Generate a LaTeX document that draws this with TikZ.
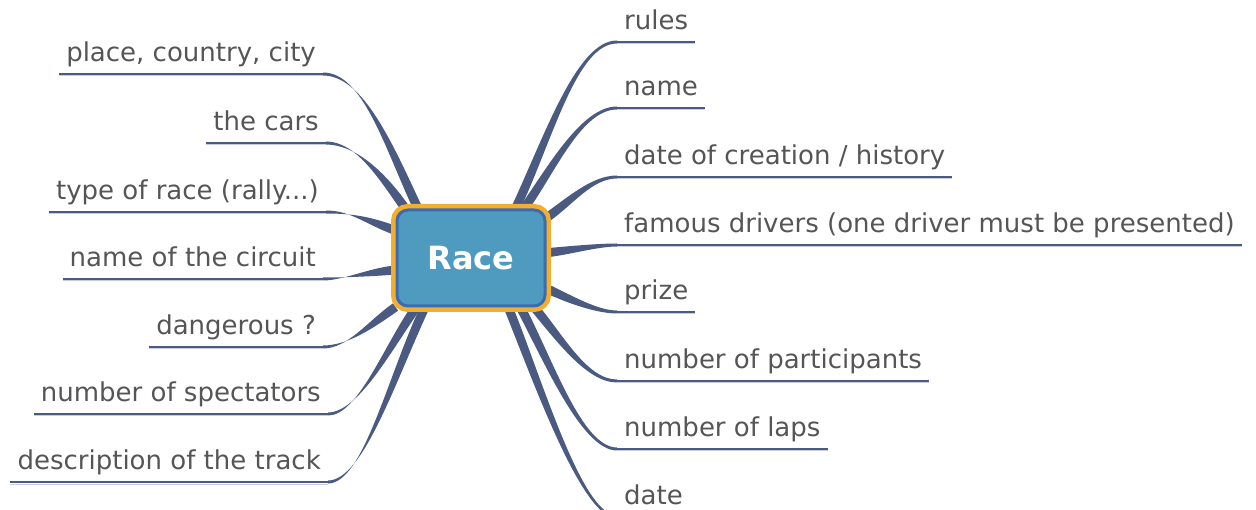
\documentclass[tikz,border=0pt]{standalone}
\usepackage{fontspec}
\setmainfont{DejaVu Sans}
\usetikzlibrary{calc,backgrounds}

\definecolor{twigblue}{HTML}{4B5A80}
\definecolor{racefill}{HTML}{4F9BBF}
\definecolor{raceedge}{HTML}{3A6DB0}
\definecolor{raceorange}{HTML}{F2AE2C}
\definecolor{labelgray}{HTML}{555555}

% tapered branch: #1 angle on race, #2 start direction, #3 start pull,
% #4 end pull, #5 end point, #6 side of the end pull (0 left label, 180 right label)
\newcommand\twig[6]{%
  \fill[twigblue] ($(race.#1)+(#2+90:4.5pt)$)
    .. controls +(#2:#3pt) and +(#6:#4pt) .. ($(#5)+(0,1.5)$)
    -- ($(#5)+(0,-1.5)$)
    .. controls +(#6:#4pt) and +(#2:#3pt) .. ($(race.#1)+(#2-90:4.5pt)$)
    -- cycle;}

\begin{document}
\begin{tikzpicture}[
    x=1pt, y=1pt,
    rootbox/.style={rectangle,rounded corners=11pt,fill=racefill,draw=raceedge,line width=3pt,
      preaction={draw=raceorange,line width=12pt},minimum width=148pt,minimum height=96pt,
      text=white,font=\fontsize{32}{36}\selectfont\bfseries},
    leaf/.style={inner xsep=7pt,inner ysep=1pt,text depth=11pt,text=labelgray,
      font=\fontsize{26}{30}\selectfont},
    leafL/.style={leaf,anchor=south east},
    leafR/.style={leaf,anchor=south west},
    uline/.style={draw=twigblue,line width=2.8pt},
    ushade/.style={draw=twigblue!30,line width=1pt}
]
    \useasboundingbox (0,0) rectangle (1256,-510);

    \node[rootbox] (race) at (471,-258) {Race};

    % left side
    \node[leafL] (place)   at (323,-74)  {place, country, city};
    \node[leafL] (cars)    at (326,-143) {the cars};
    \node[leafL] (kind)    at (326,-212) {type of race (rally...)};
    \node[leafL] (circuit) at (323,-279) {name of the circuit};
    \node[leafL] (danger)  at (323,-347) {dangerous ?};
    \node[leafL] (crowd)   at (328,-414) {number of spectators};
    \node[leafL] (track)   at (328,-482) {description of the track};

    % right side
    \node[leafR] (rules)   at (617,-42)  {rules};
    \node[leafR] (name)    at (617,-108) {name};
    \node[leafR] (history) at (617,-177) {date of creation / history};
    \node[leafR] (drivers) at (617,-245) {famous drivers (one driver must be presented)};
    \node[leafR] (prize)   at (617,-312) {prize};
    \node[leafR] (people)  at (617,-381) {number of participants};
    \node[leafR] (laps)    at (617,-449) {number of laps};
    \node[leafR] (date)    at (617,-517) {date};

    \foreach \n in {place,cars,kind,circuit,danger,crowd,track,
                    rules,name,history,drivers,prize,people,laps,date}{
        \draw[ushade] ([yshift=-2pt]\n.south west) -- ([yshift=-2pt]\n.south east);
        \draw[uline] (\n.south west) -- (\n.south east);
    }

    \begin{scope}[on background layer]
        \twig{137}{115}{70}{40}{place.south east}{0}
        \twig{143}{125}{40}{30}{cars.south east}{0}
        \twig{160}{160}{30}{25}{kind.south east}{0}
        \twig{189}{185}{25}{20}{circuit.south east}{0}
        \twig{213}{215}{30}{25}{danger.south east}{0}
        \twig{222}{235}{50}{30}{crowd.south east}{0}
        \twig{227}{245}{80}{35}{track.south east}{0}
        \twig{48}{65}{80}{40}{rules.south west}{180}
        \twig{43}{55}{50}{35}{name.south west}{180}
        \twig{28}{35}{30}{25}{history.south west}{180}
        \twig{4}{5}{20}{20}{drivers.south west}{180}
        \twig{338}{335}{25}{20}{prize.south west}{180}
        \twig{322}{310}{40}{30}{people.south west}{180}
        \twig{315}{298}{60}{35}{laps.south west}{180}
        \twig{307}{292}{80}{35}{date.south west}{180}
    \end{scope}
\end{tikzpicture}
\end{document}
